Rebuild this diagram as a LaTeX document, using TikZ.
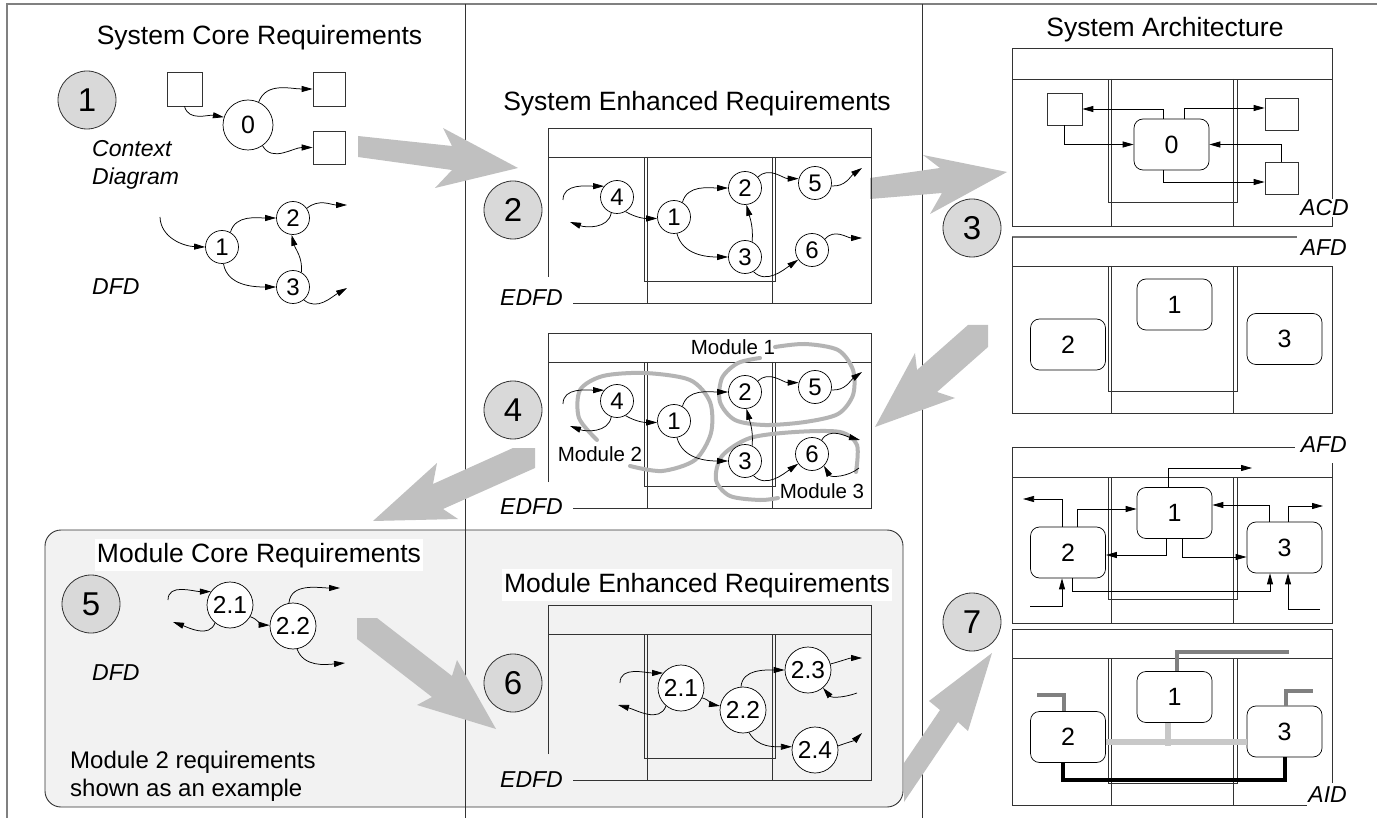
\documentclass[tikz,border=0pt]{standalone}
\usepackage{fontspec}
\setmainfont{Liberation Sans}
\usetikzlibrary{arrows.meta,calc}

\definecolor{bigarrow}{HTML}{C0C0C0}
\definecolor{stepfill}{HTML}{D9D9D9}
\definecolor{panelfill}{HTML}{F2F2F2}
\definecolor{modline}{HTML}{B4B4B4}
\definecolor{ifdark}{HTML}{808080}
\definecolor{iflight}{HTML}{C8C8C8}
\definecolor{lanecol}{HTML}{333333}

\newcommand\fsz[1]{\fontsize{#1}{#1}\selectfont}

% swim-lane frame of an (enhanced) data flow diagram, #1 = top edge
\newcommand\edfdframe[1]{%
  \draw[lanes] (548,{-#1-149}) -- (548,{-#1}) -- (871,{-#1}) -- (871,{-#1-175}) -- (573,{-#1-175});
  \draw[lanes] (548,{-#1-29}) -- (871,{-#1-29});
  \draw[lanes] (647,{-#1-29}) -- (647,{-#1-175});
  \draw[lanes] (772,{-#1-29}) -- (772,{-#1-175});
  \draw[lanes] (644,{-#1-29}) rectangle (775,{-#1-153});
}
% lane columns of an architecture diagram: header, inner bottom, bottom
\newcommand\archcols[3]{%
  \draw[lanes] (1111,-#1) -- (1111,-#3);
  \draw[lanes] (1233,-#1) -- (1233,-#3);
  \draw[lanes] (1108,-#1) rectangle (1237,-#2);
}

\begin{document}
\begin{tikzpicture}[x=1pt,y=1pt,
  hdr/.style={font=\fsz{26.5}, anchor=base, inner sep=0pt},
  hdrbox/.style={hdr, fill=white, inner xsep=2pt, inner ysep=3.5pt},
  stepc/.style={circle, draw=black!80, line width=0.8pt, fill=stepfill, minimum size=58pt, inner sep=0pt, font=\fsz{33}},
  proc/.style={circle, draw=black, line width=0.7pt, fill=white, minimum size=33pt, inner sep=0pt, font=\fsz{24}},
  procw/.style={proc, minimum size=46pt, font=\fsz{24.5}},
  ext/.style={rectangle, draw=black!80, line width=0.7pt, fill=white, inner sep=0pt},
  ubox/.style={rectangle, rounded corners=9pt, draw=black, line width=0.7pt, fill=white, minimum width=75pt, minimum height=51pt, inner sep=0pt, font=\fsz{25}},
  flow/.style={line width=0.75pt, -{Triangle[length=11pt,width=6pt]}},
  lab/.style={font=\fsz{23}\itshape, inner sep=0pt, anchor=base west},
  modlab/.style={font=\fsz{20.5}, inner sep=0pt, anchor=base},
  note/.style={font=\fsz{24}, inner sep=0pt, anchor=base west},
  lanes/.style={draw=lanecol, line width=0.9pt},
  bigarr/.style={fill=bigarrow, draw=none},
  modcurve/.style={draw=modline, line width=4pt, line cap=round},
  ifline/.style={line width=4pt, draw=ifdark},
]
\useasboundingbox (0,0) rectangle (1377,-818);
\fill[white] (0,0) rectangle (1377,-818);

% module panel
\draw[draw=black!80, line width=0.9pt, fill=panelfill, rounded corners=16pt] (45,-530) rectangle (903,-807);

% outer border and column dividers
\draw[draw=black!50, line width=2pt] (7,-818) -- (7,-4) -- (1377,-4);
\draw[lanes] (465,-4) -- (465,-818);
\draw[lanes] (922,-4) -- (922,-818);

% big process arrows
\fill[bigarr] (358,-136) -- (452,-146) -- (443,-128) -- (518,-168) -- (435,-188) -- (452,-170) -- (358,-157) -- cycle;
\fill[bigarr] (870,-178) -- (940,-168) -- (923,-155) -- (1007,-172) -- (930,-214) -- (942,-193) -- (870,-199) -- cycle;
\fill[bigarr] (968,-325) -- (988,-325) -- (988,-347) -- (937,-392) -- (955,-398) -- (875,-427) -- (915,-353) -- (917,-370) -- cycle;
\fill[bigarr] (513,-448) -- (535,-448) -- (535,-468) -- (443,-509) -- (458,-519) -- (373,-521) -- (437,-463) -- (433,-484) -- cycle;
\fill[bigarr] (357,-618) -- (377,-618) -- (452,-676) -- (457,-660) -- (496,-729) -- (417,-705) -- (432,-697) -- (357,-639) -- cycle;
\fill[bigarr] (904,-763) -- (940,-710) -- (929,-701) -- (992,-653) -- (968,-731) -- (958,-722) -- (904,-802) -- cycle;

%% ---------------- 1: system core requirements
\node[hdr] (t1) at (259.5,-45) {System Core Requirements};
\node[stepc] (k1) at (87,-100) {1};
\node[ext, minimum width=35pt, minimum height=34pt] (s1) at (184.5,-89) {};
\node[ext, minimum width=32pt, minimum height=34pt] (s2) at (329,-89) {};
\node[ext, minimum width=32pt, minimum height=33pt] (s3) at (329,-147.5) {};
\node[proc, minimum size=50pt, font=\fsz{25}] (c0) at (248,-125) {0};
\draw[flow] (s1.south) to[out=-75,in=170] (c0.162);
\draw[flow] (c0.65) to[out=70,in=180] (s2.west);
\draw[flow] (c0.-55) to[out=-60,in=180] (s3.west);
\node[lab] (l1a) at (92,-157) {Context};
\node[lab] (l1b) at (92,-185) {Diagram};

\node[proc] (d1) at (222,-247) {1};
\node[proc] (d2) at (293,-218) {2};
\node[proc] (d3) at (293,-287) {3};
\coordinate (d0in) at (160,-217);
\coordinate (d2out) at (347,-205);
\coordinate (d3out) at (347,-288);
\draw[flow] (d0in) to[out=-88,in=178] (d1.west);
\draw[flow] (d1.60) to[out=75,in=180] (d2.west);
\draw[flow] (d1.-85) to[out=-80,in=180] (d3.west);
\draw[flow] (d3.60) to[out=85,in=-75] (d2.-95);
\draw[flow] (d2.35) to[out=40,in=180] (d2out);
\draw[flow] (d3.-50) to[out=-40,in=210] (d3out);
\node[lab] (l1c) at (92,-295) {DFD};

%% ---------------- 2: system enhanced requirements
\node[hdr] (t2) at (697,-111) {System Enhanced Requirements};
\node[stepc] (k2) at (513,-210) {2};
\edfdframe{128}
\node[proc] (a4) at (617,-197) {4};
\node[proc] (a1) at (674,-217) {1};
\node[proc] (a2) at (745,-188) {2};
\node[proc] (a3) at (745,-257) {3};
\node[proc] (a5) at (815,-183) {5};
\node[proc] (a6) at (812,-250) {6};
\coordinate (a4in) at (563,-200);
\coordinate (a4out) at (570,-222);
\coordinate (a5out) at (862,-168);
\coordinate (a6out) at (862,-238);
\draw[flow] (a4in) to[out=90,in=180] (a4.140);
\draw[flow] (a4.-110) to[out=-100,in=-20] (a4out);
\draw[flow] (a4.-60) to[out=-30,in=180] (a1.185);
\draw[flow] (a1.60) to[out=75,in=180] (a2.west);
\draw[flow] (a1.-80) to[out=-75,in=180] (a3.west);
\draw[flow] (a3.65) to[out=85,in=-75] (a2.-85);
\draw[flow] (a2.40) to[out=45,in=180] (a5.165);
\draw[flow] (a5.-10) to[out=-5,in=215] (a5out);
\draw[flow] (a3.-60) to[out=-45,in=215] (a6.215);
\draw[flow] (a6.40) to[out=50,in=180] (a6out);
\node[lab, anchor=base east] (l2) at (563,-306) {EDFD};

%% ---------------- 3: system architecture
\node[hdr] (t3) at (1165,-37) {System Architecture};
\node[stepc] (k3) at (972,-228) {3};
% architecture context diagram
\draw[lanes] (1012,-48) rectangle (1332,-226);
\draw[lanes] (1012,-79) -- (1332,-79);
\archcols{79}{202}{226}
\node[ext, minimum width=35pt, minimum height=32pt] (q1) at (1064.5,-109) {};
\node[ext, minimum width=33pt, minimum height=32pt] (q2) at (1281.5,-114) {};
\node[ext, minimum width=33pt, minimum height=32pt] (q3) at (1281.5,-178) {};
\node[ubox] (b0) at (1171.5,-144.5) {0};
\draw[flow] ([xshift=-8.5pt]b0.north) |- (q1.east);
\draw[flow] ([xshift=12.5pt]b0.north) |- ([yshift=6pt]q2.west);
\draw[flow] (q1.south) |- (b0.west);
\draw[flow] (q3.north) |- (b0.east);
\draw[flow] ([xshift=-8.5pt]b0.south) |- ([yshift=-4pt]q3.west);
\node[lab, anchor=base east, fill=white, inner sep=1pt] (l3a) at (1350,-216) {ACD};
% architecture flow diagram
\draw[draw=black!55, line width=1.6pt] (1012,-237) -- (1297,-237);
\draw[lanes] (1012,-237) -- (1012,-413) -- (1332,-413) -- (1332,-266) -- (1012,-266);
\archcols{266}{391}{413}
\node[lab, anchor=base east] (l3b) at (1347,-256) {AFD};
\node[ubox] (e1) at (1174.5,-304.5) {1};
\node[ubox] (e2) at (1068,-344.5) {2};
\node[ubox] (e3) at (1284.5,-339) {3};

%% ---------------- 4: modules
\node[stepc] (k4) at (513,-410) {4};
\edfdframe{333}
\node[modlab] (m1lab) at (733,-355) {Module 1};
\draw[modcurve] plot[smooth] coordinates {(597,-440) (579,-418) (580,-390) (603,-376) (645,-373) (690,-380) (710,-402) (711,-433) (695,-460) (662,-471) (630,-466)};
\draw[modcurve] plot[smooth] coordinates {(775,-347) (805,-344) (838,-350) (853,-370) (853,-395) (838,-414) (805,-422) (765,-425) (735,-420) (720,-402) (722,-378) (738,-363) (760,-358)};
\draw[modcurve] plot[smooth] coordinates {(856,-472) (857,-445) (840,-432) (795,-432) (750,-438) (722,-456) (716,-480) (730,-496) (760,-500) (778,-498)};
\node[proc] (g4) at (617,-401) {4};
\node[proc] (g1) at (674,-421) {1};
\node[proc] (g2) at (745,-392) {2};
\node[proc] (g3) at (745,-461) {3};
\node[proc] (g5) at (815,-387) {5};
\node[proc] (g6) at (812,-454) {6};
\coordinate (g4in) at (563,-404);
\coordinate (g4out) at (570,-426);
\coordinate (g5out) at (862,-372);
\coordinate (g6out) at (860,-440);
\coordinate (g6in) at (859,-468);
\draw[flow] (g4in) to[out=90,in=180] (g4.140);
\draw[flow] (g4.-110) to[out=-100,in=-20] (g4out);
\draw[flow] (g4.-60) to[out=-30,in=180] (g1.185);
\draw[flow] (g1.60) to[out=75,in=180] (g2.west);
\draw[flow] (g1.-80) to[out=-75,in=180] (g3.west);
\draw[flow] (g3.65) to[out=85,in=-75] (g2.-85);
\draw[flow] (g2.40) to[out=45,in=180] (g5.165);
\draw[flow] (g5.-10) to[out=-5,in=215] (g5out);
\draw[flow] (g3.-60) to[out=-45,in=215] (g6.215);
\draw[flow] (g6.55) to[out=60,in=165] (g6out);
\draw[flow] (g6in) to[out=220,in=-60] (g6.-45);
\node[modlab] (m2lab) at (600,-461) {Module 2};
\node[modlab] (m3lab) at (822,-498) {Module 3};
\node[lab, anchor=base east] (l4) at (563,-514) {EDFD};

%% ---------------- 5: module core requirements
\node[hdrbox] (t5) at (259,-562) {Module Core Requirements};
\node[stepc] (k5) at (91,-604) {5};
\node[procw] (p1) at (230,-605) {2.1};
\node[procw] (p2) at (293,-626) {2.2};
\coordinate (p1in) at (168,-600);
\coordinate (p1out) at (173,-622);
\coordinate (p2outa) at (340,-588);
\coordinate (p2outb) at (345,-663);
\draw[flow] (p1in) to[out=90,in=180] (p1.145);
\draw[flow] (p1.-130) to[out=-110,in=-20] (p1out);
\draw[flow] (p1.-30) to[out=-20,in=178] (p2.178);
\draw[flow] (p2.100) to[out=85,in=180] (p2outa);
\draw[flow] (p2.-80) to[out=-70,in=185] (p2outb);
\node[lab] (l5) at (92,-680) {DFD};
\node[note] (n5a) at (70,-768) {Module 2 requirements};
\node[note] (n5b) at (70,-796) {shown as an example};

%% ---------------- 6: module enhanced requirements
\node[hdrbox] (t6) at (697,-592) {Module Enhanced Requirements};
\edfdframe{605}
\node[stepc] (k6) at (513,-683) {6};
\node[procw] (n1) at (681,-688) {2.1};
\node[procw] (n2) at (743,-710) {2.2};
\node[procw] (n3) at (808,-670) {2.3};
\node[procw] (n4) at (815,-750) {2.4};
\coordinate (n1in) at (620,-683);
\coordinate (n1out) at (618,-705);
\coordinate (n3out) at (862,-658);
\coordinate (n3in) at (857,-693);
\coordinate (n4out) at (862,-733);
\draw[flow] (n1in) to[out=90,in=180] (n1.140);
\draw[flow] (n1.-130) to[out=-110,in=-15] (n1out);
\draw[flow] (n1.-25) to[out=-15,in=170] (n2.170);
\draw[flow] (n2.95) to[out=85,in=180] (n3.180);
\draw[flow] (n2.-75) to[out=-60,in=180] (n4.172);
\draw[flow] (n3.15) to[out=15,in=180] (n3out);
\draw[flow] (n3in) to[out=200,in=-50] (n3.-50);
\draw[flow] (n4.10) to[out=20,in=225] (n4out);
\node[lab, anchor=base east] (l6) at (563,-787) {EDFD};

%% ---------------- 7: architecture flow and interconnect
\node[stepc] (k7) at (972,-622) {7};
% architecture flow diagram
\draw[lanes] (1012,-623) -- (1012,-447) -- (1295,-447);
\draw[lanes] (1332,-463) -- (1332,-623) -- (1012,-623);
\draw[lanes] (1012,-477) -- (1332,-477);
\archcols{477}{599}{623}
\node[lab, anchor=base east] (l7a) at (1347,-453) {AFD};
\node[ubox] (f1) at (1174.5,-513) {1};
\node[ubox] (f2) at (1068,-552.5) {2};
\node[ubox] (f3) at (1284.5,-547.5) {3};
\coordinate (f1o) at (1252,-468);
\coordinate (f2o) at (1023,-499);
\coordinate (f3o) at (1323,-506);
\coordinate (f2i) at (1030,-606);
\coordinate (f3i) at (1320,-609);
\draw[flow] ([xshift=-6.5pt]f1.north) |- (f1o);
\draw[flow] ([xshift=-6pt]f2.north) |- (f2o);
\draw[flow] ([xshift=9pt]f2.north) |- ([yshift=4pt]f1.west);
\draw[flow] ([xshift=-8.5pt]f1.south) |- ([yshift=-2.5pt]f2.east);
\draw[flow] ([xshift=7.5pt]f1.south) |- ([yshift=-9.5pt]f3.west);
\draw[flow] ([xshift=-15.5pt]f3.north) |- ([yshift=8pt]f1.east);
\draw[flow] ([xshift=3.5pt]f3.north) |- (f3o);
\draw[flow] ([xshift=4pt]f2.south) -- ++(0,-13) -| ([xshift=-14.5pt]f3.south);
\draw[flow] (f2i) -| ([xshift=-6pt]f2.south);
\draw[flow] (f3i) -| ([xshift=3.5pt]f3.south);
% architecture interconnect diagram
\draw[lanes] (1012,-629) -- (1332,-629) -- (1332,-783);
\draw[lanes] (1012,-629) -- (1012,-805) -- (1307,-805);
\draw[lanes] (1012,-658) -- (1332,-658);
\archcols{658}{783}{805}
\node[lab, anchor=base east] (l7b) at (1347,-802) {AID};
\node[ubox] (h1) at (1174.5,-697) {1};
\node[ubox] (h2) at (1068,-737) {2};
\node[ubox] (h3) at (1284.5,-731.5) {3};
\draw[line width=6.5pt, draw=iflight] ([yshift=-5pt]h2.east) -- ([yshift=-10.5pt]h3.west);
\draw[line width=6.5pt, draw=iflight] ([xshift=-6.5pt]h1.south) -- ++(0,-23);
\coordinate (h1o) at (1289,-652);
\coordinate (h2o) at (1037,-695);
\coordinate (h3o) at (1313,-691);
\draw[ifline] ([xshift=2.5pt]h1.north) |- (h1o);
\draw[ifline] ([xshift=-4pt]h2.north) |- (h2o);
\draw[ifline] ([xshift=1.5pt]h3.north) |- (h3o);
\draw[line width=4pt, draw=black] ([xshift=-5pt]h2.south) -- ++(0,-17) -| ([xshift=0.5pt]h3.south);
\end{tikzpicture}
\end{document}
